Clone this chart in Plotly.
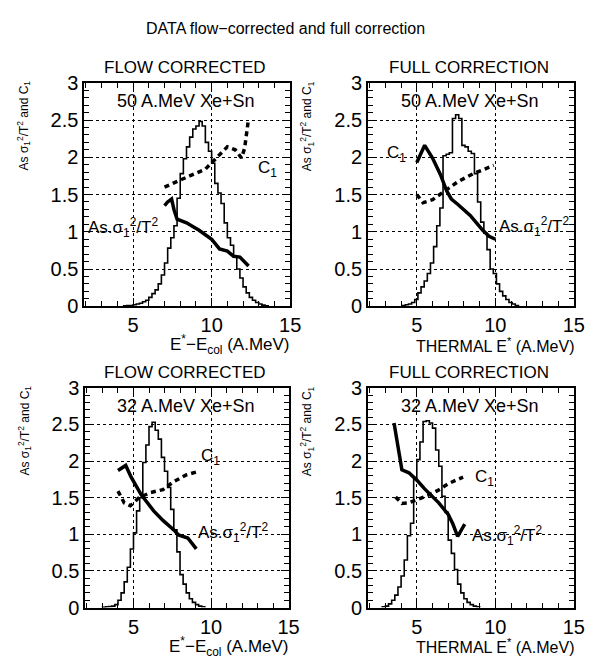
import plotly.graph_objects as go

# ---------------------------------------------------------------------------
# Data: E* distributions (histograms) and the two fluctuation observables
# ---------------------------------------------------------------------------

# 50 A.MeV Xe+Sn, flow corrected
hist_edges_50_flow = [4.4, 4.6, 4.8, 5.0, 5.2, 5.4, 5.6, 5.8, 6.0, 6.2, 6.4, 6.6, 6.8, 7.0,
                      7.2, 7.4, 7.6, 7.8, 8.0, 8.2, 8.4, 8.6, 8.8, 9.0, 9.2, 9.4, 9.6, 9.8,
                      10.0, 10.2, 10.4, 10.6, 10.8, 11.0, 11.2, 11.4, 11.6, 11.8, 12.0, 12.2,
                      12.4, 12.6, 12.8, 13.0, 13.2, 13.4, 13.6]
hist_vals_50_flow = [0.005, 0.01, 0.01, 0.02, 0.03, 0.04, 0.06, 0.08, 0.12, 0.17, 0.22, 0.30,
                     0.42, 0.58, 0.78, 0.92, 1.08, 1.45, 1.78, 1.98, 2.14, 2.27, 2.38, 2.42,
                     2.48, 2.42, 2.20, 2.08, 1.92, 1.65, 1.52, 1.38, 1.12, 0.92, 0.82, 0.66,
                     0.50, 0.38, 0.26, 0.18, 0.12, 0.08, 0.05, 0.03, 0.015, 0.005]
as_x_50_flow = [7.0, 7.2, 7.45, 7.6, 7.8, 8.4, 9.2, 10.0, 10.5, 11.0, 11.4, 11.8, 12.35]
as_y_50_flow = [1.35, 1.40, 1.44, 1.30, 1.17, 1.12, 1.02, 0.90, 0.77, 0.74, 0.67, 0.66, 0.54]
c1_x_50_flow = [7.0, 7.8, 8.6, 9.6, 10.0, 10.4, 11.0, 11.5, 11.9, 12.1, 12.35]
c1_y_50_flow = [1.60, 1.68, 1.75, 1.84, 1.93, 2.01, 2.14, 2.10, 1.99, 2.12, 2.52]

# 50 A.MeV Xe+Sn, full correction
hist_edges_50_full = [4.07, 4.27, 4.47, 4.67, 4.87, 5.07, 5.27, 5.47, 5.67, 5.87, 6.07, 6.27,
                      6.47, 6.67, 6.87, 7.07, 7.27, 7.47, 7.67, 7.87, 8.07, 8.27, 8.47, 8.67,
                      8.87, 9.07, 9.27, 9.47, 9.67, 9.87, 10.07, 10.27, 10.47, 10.67, 10.87,
                      11.07, 11.27, 11.47]
hist_vals_50_full = [0.01, 0.02, 0.03, 0.05, 0.09, 0.18, 0.26, 0.34, 0.44, 0.58, 0.80, 1.08,
                     1.32, 2.02, 2.04, 2.06, 2.52, 2.57, 2.52, 2.16, 2.14, 2.08, 2.05, 1.78,
                     1.40, 1.13, 0.98, 0.76, 0.50, 0.44, 0.30, 0.20, 0.14, 0.09, 0.05, 0.03,
                     0.01]
as_x_50_full = [5.0, 5.5, 6.0, 6.5, 6.9, 7.2, 7.6, 8.0, 8.4, 8.8, 9.2, 9.6, 10.0]
as_y_50_full = [1.93, 2.16, 1.99, 1.77, 1.55, 1.44, 1.37, 1.29, 1.22, 1.12, 1.02, 0.94, 0.90]
c1_x_50_full = [5.0, 5.4, 6.0, 6.6, 7.1, 7.6, 8.6, 9.3, 9.9]
c1_y_50_full = [1.50, 1.39, 1.43, 1.52, 1.60, 1.67, 1.78, 1.84, 1.89]

# 32 A.MeV Xe+Sn, flow corrected
hist_edges_32_flow = [3.0, 3.2, 3.4, 3.6, 3.8, 4.0, 4.2, 4.4, 4.6, 4.8, 5.0, 5.2, 5.4, 5.6,
                      5.8, 6.0, 6.2, 6.4, 6.6, 6.8, 7.0, 7.2, 7.4, 7.6, 7.8, 8.0, 8.2, 8.4,
                      8.6, 8.8, 9.0, 9.2, 9.4, 9.6]
hist_vals_32_flow = [0.005, 0.01, 0.015, 0.02, 0.04, 0.10, 0.20, 0.35, 0.55, 0.80, 1.02, 1.32,
                     1.50, 1.98, 2.22, 2.47, 2.53, 2.42, 2.30, 2.05, 1.86, 1.64, 1.34, 1.06,
                     0.76, 0.45, 0.32, 0.20, 0.12, 0.07, 0.04, 0.02, 0.01]
as_x_32_flow = [4.0, 4.5, 4.85, 5.5, 6.3, 6.9, 7.6, 7.9, 8.5, 9.05]
as_y_32_flow = [1.87, 1.94, 1.78, 1.54, 1.32, 1.19, 1.06, 0.99, 0.95, 0.80]
c1_x_32_flow = [4.0, 4.4, 4.8, 5.35, 6.1, 6.9, 7.6, 8.4, 9.05]
c1_y_32_flow = [1.59, 1.43, 1.39, 1.50, 1.57, 1.61, 1.72, 1.81, 1.85]

# 32 A.MeV Xe+Sn, full correction
hist_edges_32_full = [2.8, 3.0, 3.2, 3.4, 3.6, 3.8, 4.0, 4.2, 4.4, 4.6, 4.8, 5.0, 5.2, 5.4,
                      5.6, 5.8, 6.0, 6.2, 6.4, 6.6, 6.8, 7.0, 7.2, 7.4, 7.6, 7.8, 8.0, 8.2,
                      8.4, 8.6, 8.8, 9.0]
hist_vals_32_full = [0.01, 0.02, 0.05, 0.10, 0.17, 0.28, 0.43, 0.65, 0.98, 1.15, 1.76, 2.02,
                     2.26, 2.54, 2.55, 2.52, 2.45, 2.15, 1.93, 1.52, 1.30, 0.92, 0.74, 0.52,
                     0.32, 0.20, 0.12, 0.07, 0.04, 0.02, 0.01]
as_x_32_full = [3.55, 4.05, 4.5, 5.0, 5.5, 6.0, 6.4, 7.0, 7.3, 7.6, 8.05]
as_y_32_full = [2.52, 1.88, 1.84, 1.74, 1.62, 1.52, 1.43, 1.27, 1.14, 0.97, 1.14]
c1_x_32_full = [3.65, 4.05, 4.5, 5.2, 5.7, 6.35, 7.0, 7.6, 7.95]
c1_y_32_full = [1.51, 1.42, 1.43, 1.49, 1.53, 1.60, 1.69, 1.75, 1.78]

# Text
main_title = "DATA flow\u2212corrected and full correction"
panel_titles = ["FLOW CORRECTED", "FULL CORRECTION", "FLOW CORRECTED", "FULL CORRECTION"]
system_labels = ["50 A.MeV Xe+Sn", "50 A.MeV Xe+Sn", "32 A.MeV Xe+Sn", "32 A.MeV Xe+Sn"]
x_titles = ["E<sup>*</sup>\u2212E<sub>col</sub> (A.MeV)", "THERMAL E<sup>*</sup> (A.MeV)",
            "E<sup>*</sup>\u2212E<sub>col</sub> (A.MeV)", "THERMAL E<sup>*</sup> (A.MeV)"]
x_title_sizes = [17, 16, 17, 16]
y_title = "As \u03c3<sub>1</sub><sup>2</sup>/T<sup>2</sup> and C<sub>1</sub>"
as_label = "As.\u03c3<sub>1</sub><sup>2</sup>/T<sup>2</sup>"
c1_label = "C<sub>1</sub>"

# (x, y) anchor of the in-plot curve labels, in data units
c1_label_pos = [(12.8, 1.84), (2.95, 2.05), (9.2, 2.05), (8.6, 1.77)]
as_label_pos = [(2.0, 1.06), (10.1, 1.07), (9.05, 1.02), (8.4, 0.99)]

panels = [
    (hist_edges_50_flow, hist_vals_50_flow, as_x_50_flow, as_y_50_flow, c1_x_50_flow, c1_y_50_flow),
    (hist_edges_50_full, hist_vals_50_full, as_x_50_full, as_y_50_full, c1_x_50_full, c1_y_50_full),
    (hist_edges_32_flow, hist_vals_32_flow, as_x_32_flow, as_y_32_flow, c1_x_32_flow, c1_y_32_flow),
    (hist_edges_32_full, hist_vals_32_full, as_x_32_full, as_y_32_full, c1_x_32_full, c1_y_32_full),
]

# ---------------------------------------------------------------------------
# Layout geometry (pixels of a 599 x 670 page)
# ---------------------------------------------------------------------------
W, H = 599, 670
FONT = "Liberation Sans, Arial, sans-serif"
frames = [  # left, right, top, bottom
    (86, 295.6, 74.2, 305.3),
    (375, 584.6, 74.2, 305.3),
    (87, 294, 389.6, 616.8),
    (375, 584.6, 389.6, 616.8),
]


def px(x):
    return x / W


def py(y):
    return 1 - y / H


fig = go.Figure()
layout = dict(
    width=W, height=H,
    margin=dict(l=0, r=0, t=0, b=0),
    paper_bgcolor="white", plot_bgcolor="white",
    showlegend=False,
    font=dict(family=FONT, color="black"),
)
annotations = []

for i, (edges, vals, ax_, ay_, cx_, cy_) in enumerate(panels):
    n = "" if i == 0 else str(i + 1)
    xa, ya = "x" + n, "y" + n
    left, right, top, bottom = frames[i]

    # histogram as a closed step outline
    hx = [edges[0]] + list(edges)
    hy = [0] + list(vals) + [0]
    fig.add_trace(go.Scatter(x=hx, y=hy, mode="lines", line_shape="hv",
                             line=dict(color="black", width=1.6),
                             xaxis=xa, yaxis=ya, hoverinfo="skip"))
    # C1 (dotted)
    fig.add_trace(go.Scatter(x=cx_, y=cy_, mode="lines",
                             line=dict(color="black", width=3.5, dash="5px,4px"),
                             xaxis=xa, yaxis=ya))
    # As sigma^2 / T^2 (solid)
    fig.add_trace(go.Scatter(x=ax_, y=ay_, mode="lines",
                             line=dict(color="black", width=3.5),
                             xaxis=xa, yaxis=ya))

    axis_common = dict(
        showline=True, linecolor="black", linewidth=2, mirror="ticks",
        ticks="inside", tickcolor="black", tickwidth=1.2,
        showgrid=True, gridcolor="black", gridwidth=1, griddash="dot",
        zeroline=False, tickfont=dict(family=FONT, size=20, color="black"),
    )
    layout["xaxis" + n] = dict(
        axis_common, domain=[px(left), px(right)], range=[1.9, 15.0],
        tick0=0, dtick=5, ticklen=8, anchor=ya,
        minor=dict(dtick=1, tick0=0, ticks="inside", ticklen=5,
                   tickcolor="black", tickwidth=1.2, showgrid=False),
    )
    layout["yaxis" + n] = dict(
        axis_common, domain=[py(bottom), py(top)], range=[0, 3.0],
        tick0=0, dtick=0.5, ticklen=8, anchor=xa,
        minor=dict(dtick=0.1, tick0=0, ticks="inside", ticklen=5,
                   tickcolor="black", tickwidth=1.2, showgrid=False),
    )

    cx = (left + right) / 2
    # panel title above the frame
    annotations.append(dict(text=panel_titles[i], xref="paper", yref="paper",
                            x=px(cx - 2), y=py(top - 16), xanchor="center", yanchor="middle",
                            showarrow=False, font=dict(size=17)))
    # reaction label inside the frame
    annotations.append(dict(text=system_labels[i], xref="paper", yref="paper",
                            x=px(cx - 1), y=py(top + 19), xanchor="center", yanchor="middle",
                            showarrow=False, font=dict(size=18)))
    # x title, right-aligned below the axis
    annotations.append(dict(text=x_titles[i], xref="paper", yref="paper",
                            x=px(right + 2), y=py(bottom + 40), xanchor="right",
                            yanchor="middle", showarrow=False,
                            font=dict(size=x_title_sizes[i])))
    # y title, rotated, at the top of the axis
    annotations.append(dict(text=y_title, xref="paper", yref="paper",
                            x=px(left - 62), y=py(top - 4), xanchor="center", yanchor="top",
                            textangle=-90, showarrow=False, font=dict(size=12)))
    # curve labels
    annotations.append(dict(text=c1_label, xref=xa, yref=ya,
                            x=c1_label_pos[i][0], y=c1_label_pos[i][1],
                            xanchor="left", yanchor="middle", showarrow=False,
                            font=dict(size=17)))
    annotations.append(dict(text=as_label, xref=xa, yref=ya,
                            x=as_label_pos[i][0], y=as_label_pos[i][1],
                            xanchor="left", yanchor="middle", showarrow=False,
                            font=dict(size=17)))

annotations.append(dict(text=main_title, xref="paper", yref="paper",
                        x=px(291), y=py(18), xanchor="center", yanchor="middle",
                        showarrow=False, font=dict(size=16)))
layout["annotations"] = annotations
fig.update_layout(**layout)

fig.write_html("out.html")
